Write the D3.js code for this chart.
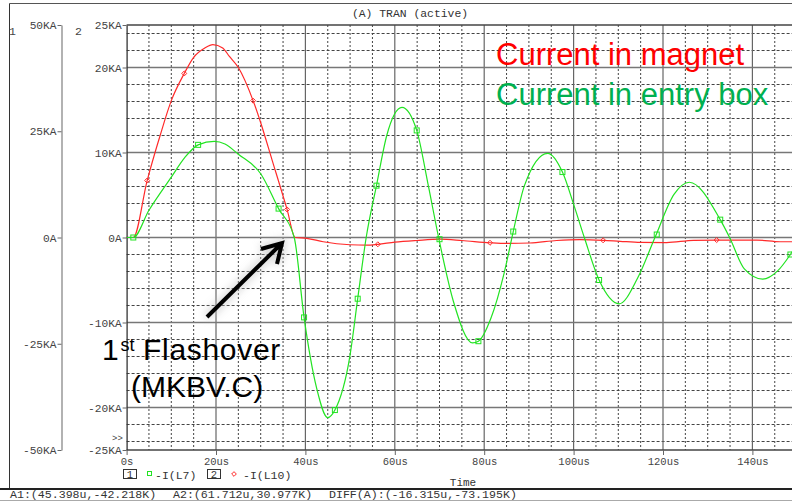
<!DOCTYPE html>
<html>
<head>
<meta charset="utf-8">
<script src="https://cdn.jsdelivr.net/npm/d3@7"></script>
<style>
  html, body { margin: 0; padding: 0; background: #fff; }
  svg { display: block; }
</style>
</head>
<body>
<div id="chart"></div>
<script>
// Waveforms: [time in us, current in KA]
const magnetCurrent = [
  [0, 0], [1.5, 0], [4.6, 6.7], [7.5, 12.0], [10, 16.1], [12.9, 19.3], [15, 21.2],
  [17.5, 22.3], [19.3, 22.7], [21.5, 22.3], [23, 21.3], [25, 20.0], [28.3, 16.1],
  [30, 13.5], [32.5, 9.2], [35.9, 3.3], [37.7, 0], [40.3, -0.1], [44, -0.5],
  [50, -0.85], [53.7, -0.9], [56.2, -0.8], [60, -0.55], [64.9, -0.35], [70.1, -0.2],
  [75, -0.35], [81.3, -0.62], [85, -0.7], [90.2, -0.65], [96.2, -0.35], [101.4, -0.25],
  [106.6, -0.33], [110.4, -0.45], [115, -0.58], [120.8, -0.6], [126.8, -0.33],
  [132, -0.3], [141, -0.3], [146.2, -0.5], [150, -0.5]
];
const entryBoxCurrent = [
  [0, 0], [1.5, 0], [5, 3.2], [10, 7.1], [13, 9.4], [16, 10.9], [19.6, 11.3], [22, 11.0],
  [25, 9.8], [30, 7.5], [34, 3.4], [37.5, 0], [39.7, -9.4], [42.5, -17.7], [45, -21.2],
  [46.6, -20.3], [50, -13.8], [51.7, -7.2], [53.6, 0], [55.9, 6.1], [58.2, 12.0],
  [61.6, 15.3], [64.9, 12.6], [67.5, 6.1], [69.8, 0], [73.1, -7.5], [77.4, -12.4],
  [78.7, -12.2], [81.5, -9.5], [84.5, -4.1], [86.5, 0.7], [89, 6.1], [94.2, 9.9],
  [97.5, 7.7], [100.1, 3.75], [102.4, 0], [105.7, -5.0], [110.2, -7.8], [114.3, -4.8],
  [118.2, 0], [122.5, 5.1], [125.9, 6.5], [132.8, 2.1], [134.9, 0], [138.2, -3.7],
  [142.3, -4.9], [145.7, -3.9], [148.5, -2.0], [150, -0.8]
];
// symbol markers drawn by PSpice on each trace
const magnetMarkers = [[4.6, 6.7], [12.9, 19.3], [28.3, 16.1], [35.9, 3.3], [56.2, -0.8],
  [81.3, -0.62], [106.6, -0.33], [132, -0.3]];
const entryBoxMarkers = [[1.5, 0], [16, 10.9], [34, 3.4], [39.7, -9.4], [46.6, -20.3],
  [51.7, -7.2], [55.9, 6.1], [64.9, 12.6], [70, -0.2], [78.7, -12.2], [86.5, 0.7],
  [97.5, 7.7], [105.7, -5.0], [118.6, 0.35], [132.8, 2.1], [148.5, -2.0]];

// axis ticks
const timeTicks = [0, 20, 40, 60, 80, 100, 120, 140];
const axis1Ticks = [50, 25, 0, -25, -50];
const axis2Ticks = [25, 20, 10, 0, -10, -20, -25];
const statusTexts = ["A1:(45.398u,-42.218K)", "A2:(61.712u,30.977K)", "DIFF(A):(-16.315u,-73.195K)"];

const width = 792, height = 503;
const plot = {left: 126.6, right: 797.1, top: 25, bottom: 450};
const mono = "'Liberation Mono', 'Courier New', monospace";
const sans = "'Liberation Sans', Arial, sans-serif";
const green = "#22e322", red = "#ff2a2a";

const svg = d3.select("#chart").append("svg")
    .attr("width", width)
    .attr("height", height)
    .attr("viewBox", `0 0 ${width} ${height}`);

const x = d3.scaleLinear().domain([0, 150]).range([plot.left, plot.right]);
const y2 = d3.scaleLinear().domain([-25, 25]).range([plot.bottom, plot.top]);
const y1 = d3.scaleLinear().domain([-50, 50]).range([plot.bottom, plot.top]);
const kaFormat = v => v === 0 ? "0A" : v + "KA";

// outer window frame and status line
svg.append("line").attr("x1", 9.5).attr("x2", width).attr("y1", 3.5).attr("y2", 3.5)
    .attr("stroke", "#555");
svg.append("line").attr("x1", 9.5).attr("x2", 9.5).attr("y1", 3.5).attr("y2", 489)
    .attr("stroke", "#333");
svg.append("line").attr("x1", 0).attr("x2", width).attr("y1", 489).attr("y2", 489)
    .attr("stroke", "#222").attr("stroke-width", 2);
svg.append("line").attr("x1", 0).attr("x2", width).attr("y1", 500.5).attr("y2", 500.5)
    .attr("stroke", "#aaa");

svg.append("text").attr("x", 410).attr("y", 17).attr("text-anchor", "middle")
    .attr("font-family", mono).attr("font-size", 11.4).attr("fill", "#333")
    .text("(A) TRAN (active)");

const statusX = [10, 173, 329];
svg.selectAll("text.status").data(statusTexts).join("text")
    .attr("class", "status")
    .attr("x", (d, i) => statusX[i]).attr("y", 498)
    .attr("font-family", mono).attr("font-size", 11.6).attr("fill", "#333")
    .text(d => d);

// grid
const grid = svg.append("g");
const minorT = d3.range(5, 150, 5).filter(t => t % 20 !== 0);
const minorV = d3.range(-24, 25, 2).filter(v => v % 10 !== 0);
grid.selectAll("line.vminor").data(minorT).join("line")
    .attr("x1", d => x(d)).attr("x2", d => x(d))
    .attr("y1", plot.top).attr("y2", plot.bottom)
    .attr("stroke", "#444").attr("stroke-dasharray", "2,2");
grid.selectAll("line.hminor").data(minorV).join("line")
    .attr("x1", plot.left).attr("x2", width)
    .attr("y1", d => y2(d)).attr("y2", d => y2(d))
    .attr("stroke", "#444").attr("stroke-dasharray", "3,2");
grid.selectAll("line.vmajor").data(timeTicks.slice(1)).join("line")
    .attr("x1", d => x(d)).attr("x2", d => x(d))
    .attr("y1", plot.top).attr("y2", plot.bottom)
    .attr("stroke", "#666").attr("stroke-width", 1.2);
grid.selectAll("line.hmajor").data([20, 10, 0, -10, -20]).join("line")
    .attr("x1", plot.left).attr("x2", width)
    .attr("y1", d => y2(d)).attr("y2", d => y2(d))
    .attr("stroke", "#777").attr("stroke-width", 1.4);
grid.selectAll("line.frame").data([25, -25]).join("line")
    .attr("x1", plot.left).attr("x2", width)
    .attr("y1", d => y2(d)).attr("y2", d => y2(d))
    .attr("stroke", "#444").attr("stroke-width", 1.4);

// axes
function styleAxis(g) {
  g.selectAll("text").attr("font-family", mono).attr("font-size", 11.2).attr("fill", "#444");
  g.selectAll("line, path").attr("stroke", "#666");
}
svg.append("g").attr("transform", `translate(${plot.left},0)`)
    .call(d3.axisLeft(y2).tickValues(axis2Ticks).tickFormat(kaFormat).tickSize(4).tickSizeOuter(0).tickPadding(1))
    .call(styleAxis)
    .call(g => g.select(".domain").attr("stroke", "#333").attr("stroke-width", 1.3));
svg.append("g").attr("transform", "translate(61.5,0)")
    .call(d3.axisLeft(y1).tickValues(axis1Ticks).tickFormat(kaFormat).tickSize(4).tickSizeOuter(0).tickPadding(1))
    .call(styleAxis)
    .call(g => g.select(".domain").attr("stroke", "#999").attr("stroke-width", 1.5));
svg.append("g").attr("transform", `translate(0,${plot.bottom})`)
    .call(d3.axisBottom(x).tickValues(timeTicks).tickFormat(d => d === 0 ? "0s" : d + "us").tickSize(5).tickPadding(3))
    .call(styleAxis)
    .call(g => g.selectAll("text").attr("font-size", 10.5))
    .call(g => g.select(".domain").remove());

// axis numbers and markers
svg.append("text").attr("x", 9).attr("y", 35).attr("font-family", mono)
    .attr("font-size", 11.5).attr("fill", "#444").text("1");
svg.append("text").attr("x", 75).attr("y", 35).attr("font-family", mono)
    .attr("font-size", 11.5).attr("fill", "#444").text("2");
svg.append("text").attr("x", 112).attr("y", 441).attr("font-family", mono)
    .attr("font-size", 9).attr("fill", "#444").text(">>");
svg.append("text").attr("x", 463).attr("y", 485.5).attr("text-anchor", "middle")
    .attr("font-family", mono).attr("font-size", 11).attr("fill", "#333").text("Time");

// legend
const legend = svg.append("g").attr("font-family", mono).attr("font-size", 11.5).attr("fill", "#333");
[[123.5, "1"], [207.5, "2"]].forEach(([lx, n]) => {
  legend.append("rect").attr("x", lx).attr("y", 469.5).attr("width", 13).attr("height", 9)
      .attr("fill", "none").attr("stroke", "#333");
  legend.append("text").attr("x", lx + 6.5).attr("y", 478).attr("font-size", 10.5)
      .attr("text-anchor", "middle").text(n);
});
legend.append("rect").attr("x", 147.5).attr("y", 471.5).attr("width", 4).attr("height", 4)
    .attr("fill", "none").attr("stroke", green);
legend.append("text").attr("x", 155).attr("y", 479).text("-I(L7)");
legend.append("path").attr("d", d3.symbol(d3.symbolDiamond2, 14)())
    .attr("transform", "translate(234,474)").attr("fill", "none").attr("stroke", red);
legend.append("text").attr("x", 243).attr("y", 479).text("-I(L10)");

// traces
svg.append("clipPath").attr("id", "plotclip").append("rect")
    .attr("x", plot.left).attr("y", plot.top - 2)
    .attr("width", plot.right - plot.left).attr("height", plot.bottom - plot.top + 4);
const traces = svg.append("g").attr("clip-path", "url(#plotclip)");
const line = d3.line().x(d => x(d[0])).y(d => y2(d[1])).curve(d3.curveMonotoneX);

traces.append("path").datum(magnetCurrent).attr("d", line)
    .attr("fill", "none").attr("stroke", red).attr("stroke-width", 1.2);
traces.append("path").datum(entryBoxCurrent).attr("d", line)
    .attr("fill", "none").attr("stroke", green).attr("stroke-width", 1.2);
traces.selectAll("rect.gm").data(entryBoxMarkers).join("rect")
    .attr("x", d => x(d[0]) - 2.5).attr("y", d => y2(d[1]) - 2.5)
    .attr("width", 5).attr("height", 5)
    .attr("fill", "none").attr("stroke", green);
traces.selectAll("path.rm").data(magnetMarkers).join("path")
    .attr("d", d3.symbol(d3.symbolDiamond2, 16)())
    .attr("transform", d => `translate(${x(d[0])},${y2(d[1])})`)
    .attr("fill", "none").attr("stroke", red);

// slide annotations
svg.append("text").attr("x", 496).attr("y", 65).attr("font-family", sans)
    .attr("font-size", 31).attr("fill", "#ff0000").text("Current in magnet");
svg.append("text").attr("x", 496).attr("y", 105).attr("font-family", sans)
    .attr("font-size", 31).attr("fill", "#00b050").text("Current in entry box");

const note = svg.append("g").attr("font-family", sans).attr("fill", "#000");
note.append("text").attr("x", 102).attr("y", 360).attr("font-size", 30).text("1");
note.append("text").attr("x", 120.5).attr("y", 351).attr("font-size", 18).text("st");
note.append("text").attr("x", 143).attr("y", 360).attr("font-size", 30)
    .attr("letter-spacing", 0.7).text("Flashover");
note.append("text").attr("x", 131).attr("y", 397).attr("font-size", 30).text("(MKBV.C)");

const defs = svg.append("defs");
defs.append("filter").attr("id", "glow").attr("x", "-50%").attr("y", "-50%")
    .attr("width", "200%").attr("height", "200%")
  .append("feGaussianBlur").attr("stdDeviation", 4);
const arrowPath = "M207,317 L281,244 M261,249 L282,243 L277,264";
svg.append("path").attr("d", arrowPath).attr("fill", "none")
    .attr("stroke", "#bbb").attr("stroke-width", 8).attr("opacity", 0.6).attr("filter", "url(#glow)");
svg.append("path").attr("d", arrowPath).attr("fill", "none")
    .attr("stroke", "#000").attr("stroke-width", 4).attr("stroke-linejoin", "miter");
</script>
</body>
</html>
